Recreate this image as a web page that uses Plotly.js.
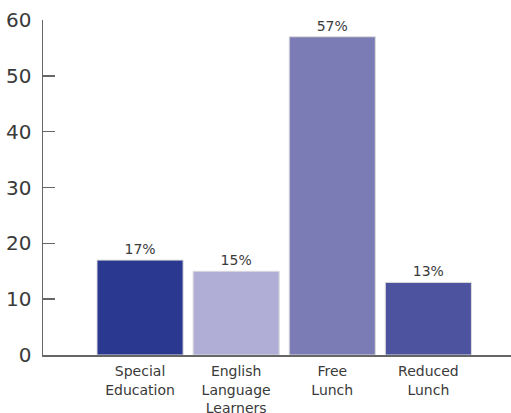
<!DOCTYPE html>
<html>
<head>
<meta charset="utf-8">
<script src="https://cdn.plot.ly/plotly-3.0.1.min.js"></script>
<style>html,body{margin:0;padding:0;background:#fff;}#chart{width:511px;height:413px;}</style>
</head>
<body>
<div id="chart"></div>
<script>
var categories = ["Special<br>Education", "English<br>Language<br>Learners", "Free<br>Lunch", "Reduced<br>Lunch"];
var values = [17, 15, 57, 13];
var valueLabels = ["17%", "15%", "57%", "13%"];
var barColors = ["#2b388f", "#b0aed6", "#7b7bb5", "#4d539e"];
var yTicks = [0, 10, 20, 30, 40, 50, 60];

var xIdx = categories.map(function(_, i){ return i; });

var trace = {
  type: "bar",
  x: xIdx,
  y: values,
  width: 0.896,
  text: valueLabels,
  textposition: "outside",
  cliponaxis: false,
  textfont: {family: "DejaVu Sans, sans-serif", size: 14, color: "#3a3a3a"},
  marker: {color: barColors, line: {color: "#dcdcdc", width: 1}},
  hoverinfo: "none"
};

var layout = {
  width: 511, height: 413,
  margin: {l: 43, r: 0, t: 20, b: 58},
  paper_bgcolor: "#fff", plot_bgcolor: "#fff",
  showlegend: false,
  font: {family: "DejaVu Sans, sans-serif", color: "#3a3a3a"},
  xaxis: {
    range: [-1.01, 3.86],
    tickvals: xIdx,
    ticktext: categories,
    showgrid: false, zeroline: false,
    showline: true, linecolor: "#666", linewidth: 1.5,
    ticks: "",
    tickfont: {size: 14, color: "#3a3a3a"},
    ticklabelstandoff: 3,
    fixedrange: true
  },
  yaxis: {
    range: [0, 60],
    tickvals: yTicks,
    showgrid: false, zeroline: false,
    showline: true, linecolor: "#666", linewidth: 1.5,
    ticks: "inside", ticklen: 12, tickcolor: "#666", tickwidth: 1.5,
    tickfont: {size: 20, color: "#3a3a3a"},
    ticklabelstandoff: 6,
    fixedrange: true
  }
};

Plotly.newPlot("chart", [trace], layout, {staticPlot: true, displayModeBar: false});
</script>
</body>
</html>
